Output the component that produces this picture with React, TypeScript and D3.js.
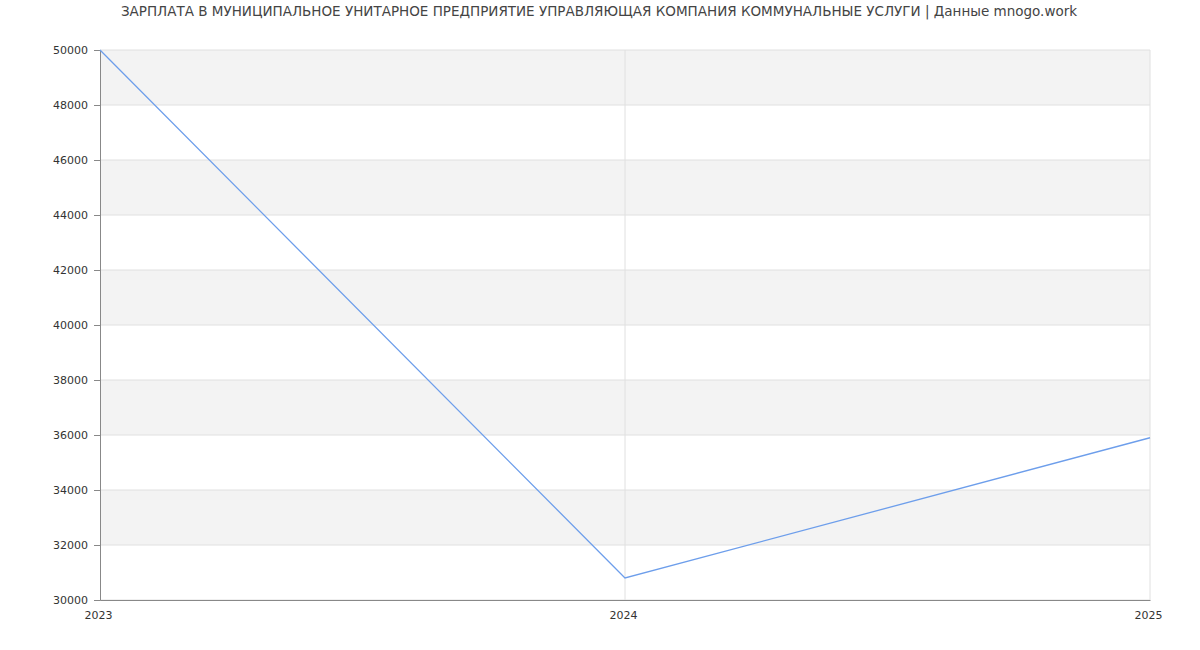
import React, { useRef, useEffect } from 'react';
import * as d3 from 'd3';

const years = [2023, 2024, 2025];
const salaries = [50000, 30800, 35900];
const yTicks = [30000, 32000, 34000, 36000, 38000, 40000, 42000, 44000, 46000, 48000, 50000];
const title = 'ЗАРПЛАТА В МУНИЦИПАЛЬНОЕ УНИТАРНОЕ ПРЕДПРИЯТИЕ УПРАВЛЯЮЩАЯ КОМПАНИЯ КОММУНАЛЬНЫЕ УСЛУГИ | Данные mnogo.work';

const SalaryChart: React.FC = () => {
  const svgRef = useRef<SVGSVGElement | null>(null);

  useEffect(() => {
    if (!svgRef.current) return;
    const width = 1200;
    const height = 650;
    const margin = { top: 50, right: 50, bottom: 50, left: 100 };
    const font = '"DejaVu Sans", sans-serif';

    const svg = d3.select(svgRef.current);
    svg.selectAll('*').remove();

    const x = d3.scaleLinear()
      .domain([years[0], years[years.length - 1]])
      .range([margin.left, width - margin.right]);
    const y = d3.scaleLinear()
      .domain([30000, 50000])
      .range([height - margin.bottom, margin.top]);

    // alternating bands
    const bands = d3.range(0, yTicks.length - 1).filter(i => i % 2 === 1);
    svg.append('g')
      .selectAll('rect')
      .data(bands)
      .enter().append('rect')
      .attr('x', margin.left)
      .attr('width', width - margin.right - margin.left)
      .attr('y', i => y(yTicks[i + 1]))
      .attr('height', i => y(yTicks[i]) - y(yTicks[i + 1]))
      .attr('fill', '#f3f3f3');

    // horizontal grid
    svg.append('g')
      .selectAll('line')
      .data(yTicks)
      .enter().append('line')
      .attr('x1', margin.left)
      .attr('x2', width - margin.right)
      .attr('y1', d => y(d))
      .attr('y2', d => y(d))
      .attr('stroke', '#e0e0e0')
      .attr('stroke-width', 1);

    // vertical grid
    svg.append('g')
      .selectAll('line')
      .data(years.slice(1))
      .enter().append('line')
      .attr('x1', d => x(d))
      .attr('x2', d => x(d))
      .attr('y1', margin.top)
      .attr('y2', height - margin.bottom)
      .attr('stroke', '#e0e0e0')
      .attr('stroke-width', 1);

    // y axis
    const yAxis = svg.append('g')
      .attr('transform', `translate(${margin.left},0)`)
      .call(d3.axisLeft(y).tickValues(yTicks).tickSize(6).tickPadding(6).tickFormat(d => String(d)));
    yAxis.select('.domain').attr('stroke', '#888');
    yAxis.selectAll('.tick line').attr('stroke', '#888');
    yAxis.selectAll('.tick text')
      .attr('fill', '#333')
      .style('font-family', font)
      .style('font-size', '11px');

    // x axis
    const xAxis = svg.append('g')
      .attr('transform', `translate(0,${height - margin.bottom})`)
      .call(d3.axisBottom(x).tickValues(years).tickSize(0).tickPadding(11).tickFormat(d => String(d)));
    xAxis.select('.domain').attr('stroke', '#888');
    xAxis.selectAll('.tick text')
      .attr('fill', '#333')
      .attr('dx', '-2')
      .style('font-family', font)
      .style('font-size', '11px');

    // line
    const line = d3.line<number>()
      .x((_, i) => x(years[i]))
      .y(d => y(d));
    svg.append('path')
      .datum(salaries)
      .attr('d', line)
      .attr('fill', 'none')
      .attr('stroke', '#6d9eeb')
      .attr('stroke-width', 1.3);

    // title
    svg.append('text')
      .attr('x', width / 2 - 1)
      .attr('y', 16)
      .attr('text-anchor', 'middle')
      .attr('fill', '#444')
      .style('font-family', font)
      .style('font-size', '13.5px')
      .text(title);
  }, []);

  return (
    <div style={{ position: 'absolute', left: 0, top: 0 }}>
      <svg ref={svgRef} width={1200} height={650} style={{ display: 'block', background: '#fff' }} />
    </div>
  );
};

export default function App() {
  return <SalaryChart />;
}
